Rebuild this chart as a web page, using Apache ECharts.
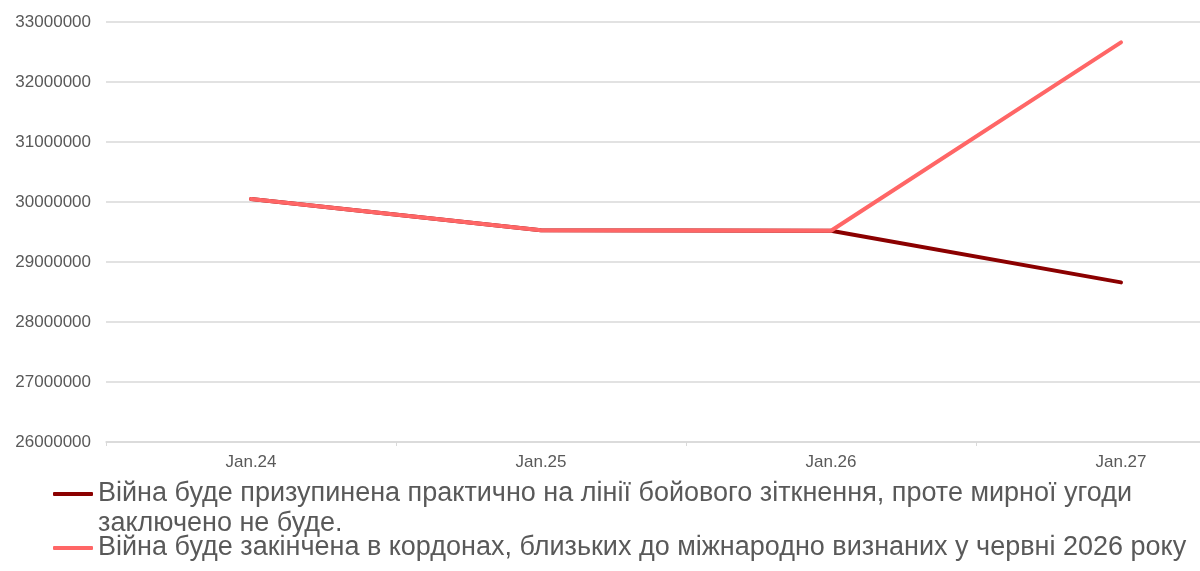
<!DOCTYPE html>
<html>
<head>
<meta charset="utf-8">
<title>Population forecast</title>
<script src="https://cdn.jsdelivr.net/npm/echarts@6/dist/echarts.min.js"></script>
<style>
    html, body { margin: 0; padding: 0; background: #fff; }
    #chart { width: 1200px; height: 571px; }
</style>
</head>
<body>
<div id="chart"></div>
<script>

// Chart data
// ------------------------------

var categories = ['Jan.24', 'Jan.25', 'Jan.26', 'Jan.27'];

var seriesNames = [
    'Війна буде призупинена практично на лінії бойового зіткнення, проте мирної угоди\nзаключено не буде.',
    'Війна буде закінчена в кордонах, близьких до міжнародно визнаних у червні 2026 року'
];

// frozen conflict scenario
var frozenValues = [30050000, 29530000, 29520000, 28660000];

// war ends scenario
var peaceValues = [30050000, 29530000, 29520000, 32660000];

var yMin = 26000000;
var yMax = 33000000;
var yStep = 1000000;


// Setup chart
// ------------------------------

var ChartPopulation = function() {

    var _lineChart = function() {
        if (typeof echarts == 'undefined') {
            console.warn('Warning - echarts.min.js is not loaded.');
            return;
        }

        var chart_element = document.getElementById('chart');
        if (!chart_element) return;

        var chart = echarts.init(chart_element);

        var textColor = '#595959';
        var gridColor = '#d9d9d9';
        var font = '"Liberation Sans", Arial, sans-serif';

        // shared legend look
        var legendText = {
            color: textColor,
            fontSize: 27,
            lineHeight: 30,
            fontFamily: font
        };

        chart.setOption({

            color: ['#8B0000', '#FF6666'],

            textStyle: {
                fontFamily: font
            },

            animation: false,

            // plot area runs past the right edge, like the cropped original
            grid: {
                left: 106,
                top: 22,
                right: -66,
                height: 420,
                outerBoundsMode: 'none'
            },

            // two legends so each item sits where it is in the picture
            legend: [{
                data: [seriesNames[0]],
                left: 53,
                top: 449,
                padding: 0,
                icon: 'roundRect',
                itemWidth: 40,
                itemHeight: 4,
                // blank first line keeps the icon level with the first text line
                formatter: function(name) {
                    return '\n' + name;
                },
                textStyle: legendText
            }, {
                data: [seriesNames[1]],
                left: 53,
                top: 533,
                padding: 0,
                icon: 'roundRect',
                itemWidth: 40,
                itemHeight: 4,
                textStyle: legendText
            }],

            xAxis: [{
                type: 'category',
                boundaryGap: true,
                data: categories,
                axisLabel: {
                    color: textColor,
                    fontSize: 17,
                    margin: 12
                },
                axisLine: {
                    lineStyle: {
                        color: gridColor,
                        width: 1.5
                    }
                },
                axisTick: {
                    show: true,
                    length: 4,
                    lineStyle: {
                        color: gridColor
                    }
                }
            }],

            yAxis: [{
                type: 'value',
                min: yMin,
                max: yMax,
                interval: yStep,
                axisLabel: {
                    color: textColor,
                    fontSize: 17,
                    margin: 15,
                    formatter: function(v) {
                        return String(v);
                    }
                },
                axisLine: { show: false },
                axisTick: { show: false },
                splitLine: {
                    lineStyle: {
                        color: gridColor,
                        width: 1.5
                    }
                }
            }],

            series: [
                {
                    name: seriesNames[0],
                    type: 'line',
                    data: frozenValues,
                    symbol: 'none',
                    lineStyle: {
                        width: 4,
                        cap: 'round'
                    }
                },
                {
                    name: seriesNames[1],
                    type: 'line',
                    data: peaceValues,
                    symbol: 'none',
                    lineStyle: {
                        width: 4,
                        cap: 'round'
                    }
                }
            ]
        });

        window.addEventListener('resize', function() {
            chart.resize();
        });
    };

    return {
        init: function() {
            _lineChart();
        }
    }
}();

document.addEventListener('DOMContentLoaded', function() {
    ChartPopulation.init();
});
</script>
</body>
</html>
